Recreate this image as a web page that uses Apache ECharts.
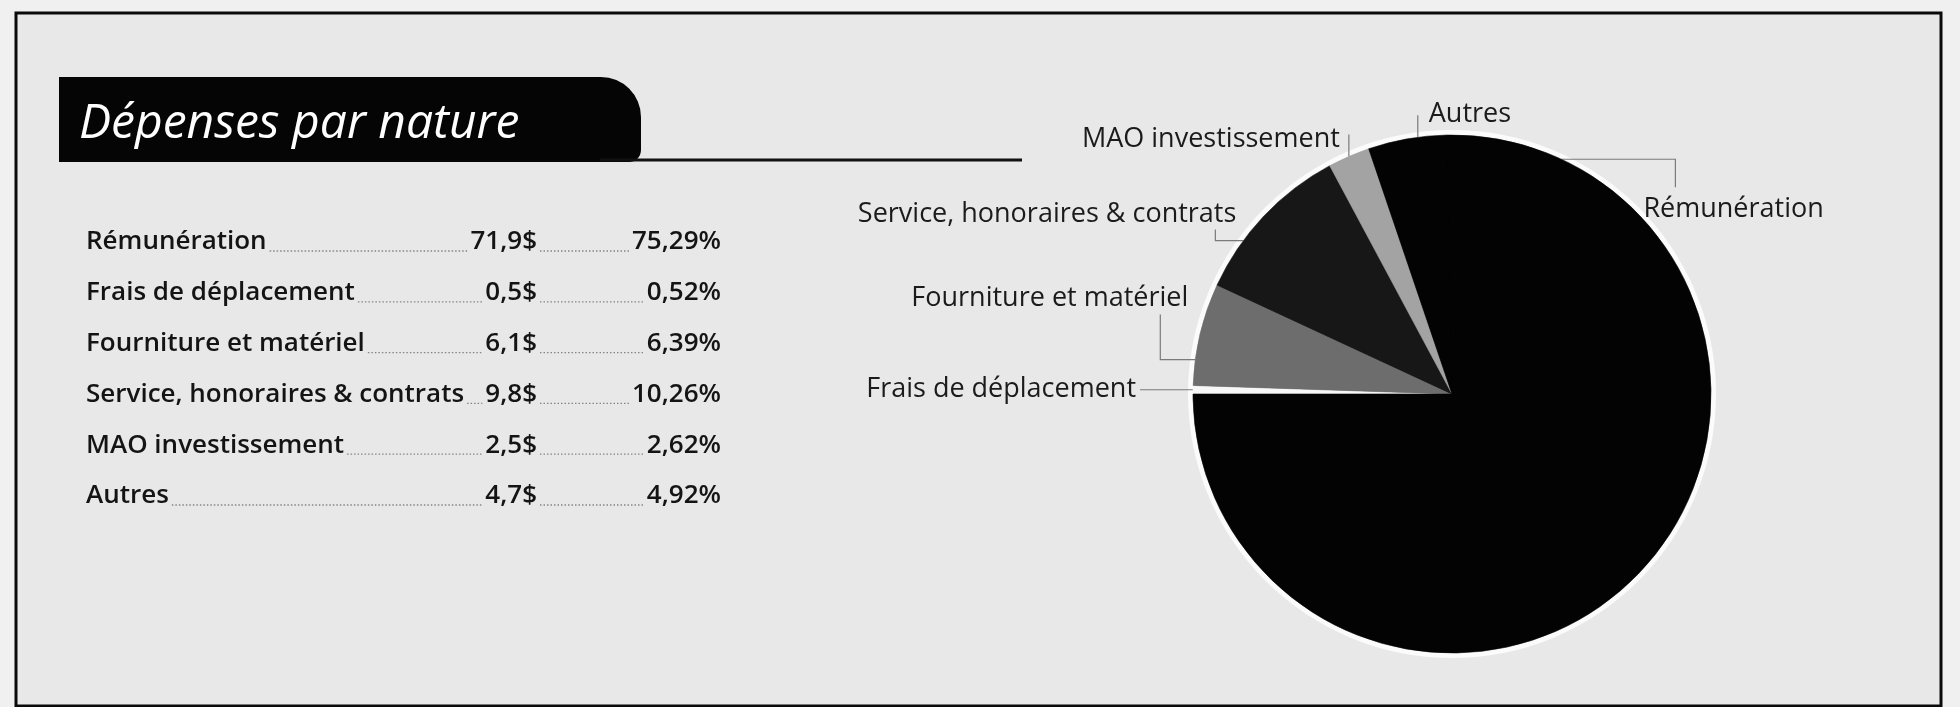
<!DOCTYPE html>
<html>
<head>
<meta charset="utf-8">
<script src="https://cdn.jsdelivr.net/npm/echarts@6/dist/echarts.min.js"></script>
<style>
  html, body { margin: 0; padding: 0; background: #f0f0f0; }
  #chart { width: 1960px; height: 707px; }
</style>
</head>
<body>
<div id="chart"></div>
<script>
// ---- data ----
const titleText = 'Dépenses par nature';
const categories = ['Rémunération', 'Frais de déplacement', 'Fourniture et matériel',
                    'Service, honoraires & contrats', 'MAO investissement', 'Autres'];
const amounts  = [71.9, 0.5, 6.1, 9.8, 2.5, 4.7];        // millions $
const percents = [75.29, 0.52, 6.39, 10.26, 2.62, 4.92]; // share of total
// slices drawn clockwise starting at 9 o'clock
const sliceOrder = [1, 2, 3, 4, 5, 0];

// ---- styling ----
const sliceColors = {
  'Rémunération': '#030303',
  'Frais de déplacement': '#f7f7f7',
  'Fourniture et matériel': '#6d6d6d',
  'Service, honoraires & contrats': '#171717',
  'MAO investissement': '#a3a3a3',
  'Autres': '#030303'
};
const PIE_CX = 1452, PIE_CY = 394, PIE_R = 259;
// leader line for each label: t = where on the slice arc it starts,
// pts = elbow points relative to that start, label = [dx, dy, align]
const guides = {
  'Frais de déplacement':           { t: 0.5,  pts: [[-53, 0]],             label: [-57, 0, 'right'] },
  'Fourniture et matériel':         { t: 0.25, pts: [[-35, 0], [-35, -45]], label: [-7, -61, 'right'] },
  'Service, honoraires & contrats': { t: 0.31, pts: [[-28, 0], [-28, -11]], label: [-7, -26, 'right'] },
  'MAO investissement':             { t: 0.5,  pts: [[0, -22]],             label: [-9, -17, 'right'] },
  'Autres':                         { t: 0.63, pts: [[0, -22]],             label: [11, -23, 'left'] },
  'Rémunération':                   { t: 0.096, pts: [[114, 0], [114, 28]], label: [82, 50, 'left'] }
};

const fmt = (v, d) => v.toFixed(d).replace('.', ',');

// pie data in drawing order, with start/end sweep fractions
const total = sliceOrder.reduce((s, i) => s + amounts[i], 0);
let acc = 0;
const pieData = sliceOrder.map(i => {
  const start = acc / total;
  acc += amounts[i];
  const c = sliceColors[categories[i]];
  return {
    name: categories[i],
    value: amounts[i],
    startFrac: start,
    endFrac: acc / total,
    itemStyle: { color: c, borderColor: c, borderWidth: 0.6 }
  };
});

function anchorPoint(item) {
  const g = guides[item.name];
  const sweep = (item.startFrac + g.t * (item.endFrac - item.startFrac)) * 360;
  const theta = (180 - sweep) * Math.PI / 180;
  return [PIE_CX + PIE_R * Math.cos(theta), PIE_CY - PIE_R * Math.sin(theta)];
}

// ---- table on the left ----
const TABLE_FONT = '600 26px "Open Sans"';
const measureCtx = document.createElement('canvas').getContext('2d');
measureCtx.font = TABLE_FONT;
const textW = s => measureCtx.measureText(s).width;

const tableX = 86, valueRight = 537, pctRight = 721, rowTop = 242, rowStep = 50.8;
const tableGraphics = [];
categories.forEach((cat, i) => {
  const y = rowTop + i * rowStep;
  const valTxt = fmt(amounts[i], 1) + '$';
  const pctTxt = fmt(percents[i], 2) + '%';
  const txtStyle = { font: TABLE_FONT, fill: '#141414', verticalAlign: 'middle' };
  tableGraphics.push(
    { type: 'text', x: tableX, y: y, style: Object.assign({ text: cat, align: 'left' }, txtStyle) },
    { type: 'text', x: valueRight, y: y, style: Object.assign({ text: valTxt, align: 'right' }, txtStyle) },
    { type: 'text', x: pctRight, y: y, style: Object.assign({ text: pctTxt, align: 'right' }, txtStyle) }
  );
  const dotStyle = { stroke: '#858585', lineWidth: 1.3, lineDash: [1.5, 2] };
  const by = y + 9;
  tableGraphics.push(
    { type: 'line', shape: { x1: tableX + textW(cat) + 3, y1: by, x2: valueRight - textW(valTxt) - 3, y2: by }, style: dotStyle },
    { type: 'line', shape: { x1: valueRight + 3, y1: by, x2: pctRight - textW(pctTxt) - 3, y2: by }, style: dotStyle }
  );
});

const chart = echarts.init(document.getElementById('chart'));
chart.setOption({
  animation: false,
  backgroundColor: '#f0f0f0',
  graphic: [
    { type: 'rect', z: 0, shape: { x: 16, y: 13, width: 1925, height: 693 },
      style: { fill: '#e8e8e8', stroke: '#0a0a0a', lineWidth: 3 } },
    { type: 'rect', z: 1, shape: { x: 59, y: 77, width: 582, height: 85, r: [0, 40, 12, 0] },
      style: { fill: '#050505' } },
    { type: 'line', z: 1, shape: { x1: 600, y1: 160, x2: 1022, y2: 160 },
      style: { stroke: '#111', lineWidth: 3 } },
    { type: 'text', z: 2, x: 79, y: 124,
      style: { text: titleText, font: 'italic 500 48px "Open Sans"', fill: '#ffffff', verticalAlign: 'middle' } }
  ].concat(tableGraphics.map(g => Object.assign({ z: 2 }, g))),
  series: [
    {
      // white rim around the pie
      type: 'pie', silent: true, z: 1,
      center: [PIE_CX, PIE_CY], radius: PIE_R + 5,
      label: { show: false }, labelLine: { show: false },
      data: [{ value: 1, itemStyle: { color: '#fbfbfb' } }]
    },
    {
      // dark underlay so slice joins stay solid
      type: 'pie', silent: true, z: 1,
      center: [PIE_CX, PIE_CY], radius: PIE_R - 1,
      label: { show: false }, labelLine: { show: false },
      data: [{ value: 1, itemStyle: { color: '#030303' } }]
    },
    {
      type: 'pie', z: 2,
      center: [PIE_CX, PIE_CY], radius: PIE_R,
      startAngle: 180, clockwise: true,
      avoidLabelOverlap: false,
      emphasis: { disabled: true },
      label: {
        show: true, position: 'outside', formatter: '{b}',
        fontFamily: 'Open Sans', fontSize: 27, fontWeight: 500, color: '#1b1b1b'
      },
      labelLine: { show: true, lineStyle: { color: '#7a7a7a', width: 1.2 } },
      labelLayout: function (p) {
        const item = pieData[p.dataIndex];
        const g = guides[item.name];
        const a = anchorPoint(item);
        const pts = [a].concat(g.pts.map(d => [a[0] + d[0], a[1] + d[1]]));
        return {
          x: a[0] + g.label[0], y: a[1] + g.label[1],
          align: g.label[2], verticalAlign: 'middle',
          labelLinePoints: pts
        };
      },
      data: pieData
    }
  ]
});
</script>
</body>
</html>
